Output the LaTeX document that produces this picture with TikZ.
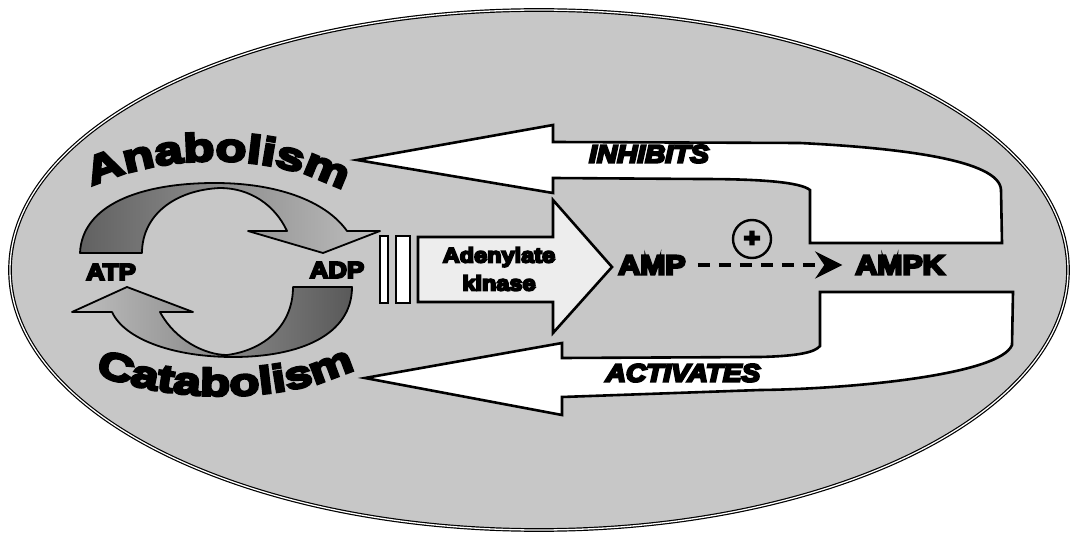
\documentclass[tikz,border=0pt]{standalone}
\usepackage{fontspec}
\setmainfont{Liberation Sans}
\newfontfamily\heavy{Liberation Sans}[FakeBold=9, FakeStretch=1.12]
\newfontfamily\arcfont{Liberation Sans}[FakeBold=7, FakeStretch=1.3]
\usetikzlibrary{arrows.meta, decorations.text}

\tikzset{
  cellbody/.style={draw=black, line width=1.2pt, double=white, double distance=1.3pt, fill=black!22},
  bigarrow/.style={draw=black, line width=2.6pt, fill=white, line join=miter},
  kinarrow/.style={bigarrow, fill=black!7},
  barbox/.style={draw=black, line width=1.8pt, fill=white},
  cyclearrow/.style={draw=black, line width=1.8pt, line join=round},
  lbl/.style={inner sep=0pt, text=black},
  molfont/.style={font=\heavy\bfseries\fontsize{23}{28}\selectfont},
  ampfont/.style={font=\heavy\bfseries\fontsize{27}{32}\selectfont},
  actfont/.style={font=\heavy\bfseries\itshape\fontsize{25}{30}\selectfont},
  dasharrow/.style={line width=4pt, dash pattern=on 12pt off 9pt,
    -{Stealth[length=27pt, width=27pt, inset=9pt]},
    shorten <=12pt, shorten >=13pt},
  plusmark/.style={draw=black, circle, line width=2.4pt, minimum size=38pt, inner sep=0pt,
    font=\heavy\bfseries\fontsize{25}{25}\selectfont}
}

\begin{document}
\begin{tikzpicture}[x=1pt, y=1pt]
\useasboundingbox (0,0) rectangle (1071,-537);

% the cell
\draw[cellbody] (539,-270) ellipse [x radius=529, y radius=260];

% INHIBITS feedback arrow
\draw[bigarrow] (357,-160) -- (553,-125) -- (553,-142) -- (800,-143)
  .. controls (900,-148) and (1000,-160) .. (1001,-190)
  -- (1002,-243) -- (810,-243) -- (810,-190)
  .. controls (800,-182) and (760,-179) .. (700,-179)
  -- (553,-178) -- (553,-193) -- cycle;

% ACTIVATES feedback arrow
\draw[bigarrow] (365,-378) -- (562,-343) -- (562,-358) -- (760,-357)
  .. controls (800,-356) and (815,-352) .. (820,-346)
  -- (820,-292) -- (1013,-292) -- (1012,-345)
  .. controls (1000,-375) and (850,-389) .. (760,-390)
  -- (562,-397) -- (562,-415) -- cycle;

% adenylate kinase arrow
\draw[kinarrow] (418,-237) -- (553,-237) -- (553,-200) -- (612,-267)
  -- (553,-333) -- (553,-302) -- (418,-302) -- cycle;

% membrane bars
\draw[barbox] (380,-236) rectangle (388,-303);
\draw[barbox] (396,-236) rectangle (410,-303);

% anabolic half of the ATP/ADP cycle
\draw[cyclearrow, left color=black!62, right color=black!25]
  (80,-253) .. controls (82,-205) and (140,-183) .. (215,-183)
  .. controls (275,-183) and (325,-200) .. (347,-231)
  -- (380,-231) -- (323,-253) -- (248,-231) -- (287,-231)
  .. controls (275,-205) and (250,-188) .. (220,-188)
  .. controls (175,-190) and (142,-215) .. (142,-253) -- cycle;

% catabolic half of the ATP/ADP cycle
\draw[cyclearrow, left color=black!25, right color=black!65]
  (352,-287) .. controls (352,-335) and (300,-357) .. (233,-357)
  .. controls (175,-357) and (125,-340) .. (112,-312)
  -- (72,-312) -- (127,-287) -- (193,-312) -- (160,-312)
  .. controls (175,-340) and (205,-355) .. (227,-355)
  .. controls (265,-350) and (293,-325) .. (293,-287) -- cycle;

% curved headings
\path[decorate, decoration={text along path, text align=center,
  text={|\arcfont\bfseries\fontsize{39}{39}\selectfont|Anabolism}}]
  (82,-191) .. controls (160,-150) and (280,-150) .. (352,-196);
\path[decorate, decoration={text along path, text align=center,
  text={|\arcfont\bfseries\fontsize{38}{38}\selectfont|Catabolism}}]
  (88,-371) .. controls (170,-405) and (290,-405) .. (362,-365);

% labels
\node[lbl, molfont] (atp) at (111,-272) {ATP};
\node[lbl, molfont] (adp) at (337,-270) {ADP};
\node[lbl, align=center, font=\heavy\bfseries\fontsize{21}{28}\selectfont] (kinase) at (499,-269) {Adenylate\\kinase};
\node[lbl, ampfont] (amp) at (652,-265) {AMP};
\node[lbl, ampfont] (ampk) at (900,-265) {AMPK};
\node[lbl, actfont] (inhibits) at (649,-154) {INHIBITS};
\node[lbl, actfont] (activates) at (683,-373) {ACTIVATES};
\node[plusmark] (plus) at (752,-239) {+};

% AMP stimulates AMPK
\draw[dasharrow] (amp) -- (ampk);
\end{tikzpicture}
\end{document}
